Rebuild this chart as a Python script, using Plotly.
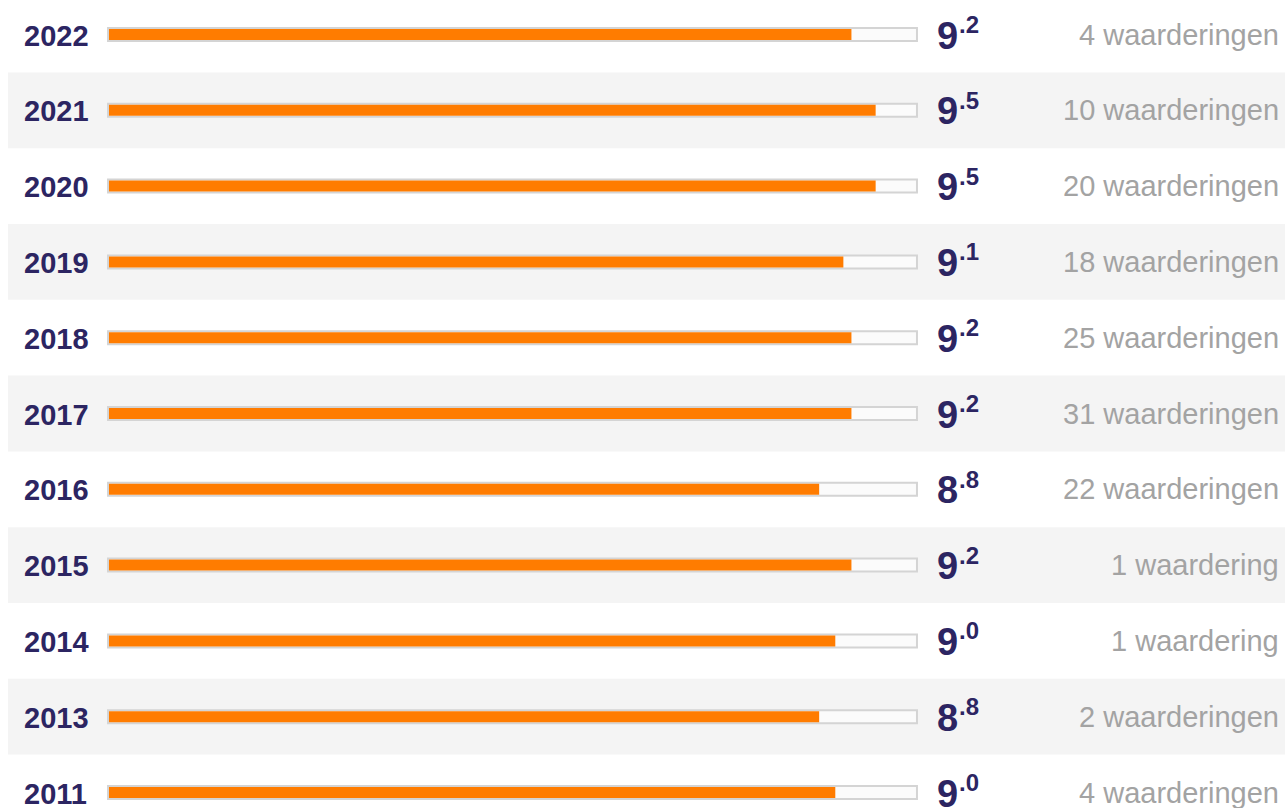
import plotly.graph_objects as go

years = ["2022", "2021", "2020", "2019", "2018", "2017", "2016", "2015", "2014", "2013", "2011"]
scores = [9.2, 9.5, 9.5, 9.1, 9.2, 9.2, 8.8, 9.2, 9.0, 8.8, 9.0]
counts = [4, 10, 20, 18, 25, 31, 22, 1, 1, 2, 4]
max_score = 10

W, H = 1285, 808
PX0, PX10 = 109, 916          # pixel of score 0 and score 10
ROW0, ROWH = 34.5, 75.8       # pixel centre of first row, row pitch

ppu = (PX10 - PX0) / max_score
xr = [-PX0 / ppu, (W - PX0) / ppu]
yr = [(H - ROW0) / ROWH, -ROW0 / ROWH]

rows = list(range(len(years)))
ORANGE = "#ff7c00"
NAVY = "#2c2562"
GREY = "#a3a3a3"
FONT = "Liberation Sans, Arial, Helvetica, sans-serif"

fig = go.Figure()

# track
fig.add_trace(go.Bar(
    y=rows, x=[max_score + 0.024] * len(rows), base=[-0.012] * len(rows),
    orientation="h", width=13 / ROWH,
    marker=dict(color="#fbfbfb", line=dict(color="#d4d4d4", width=2)),
    hoverinfo="skip", showlegend=False,
))
# score fill
fig.add_trace(go.Bar(
    y=rows, x=scores, base=[0] * len(rows),
    orientation="h", width=11 / ROWH,
    marker=dict(color=ORANGE, line=dict(width=0)),
    hoverinfo="skip", showlegend=False,
))

shapes = []
annotations = []
for i, (yr_, s, c) in enumerate(zip(years, scores, counts)):
    if i % 2 == 1:
        shapes.append(dict(type="rect", xref="paper", yref="y",
                           x0=8 / W, x1=1, y0=i - 0.5, y1=i + 0.5,
                           fillcolor="#f4f4f4", line=dict(width=0), layer="below"))
    annotations.append(dict(x=22 / W, xref="paper", y=i, yref="y",
                            text=f"<b>{yr_}</b>", showarrow=False,
                            xanchor="left", yanchor="middle", yshift=-1,
                            font=dict(family=FONT, size=29, color=NAVY)))
    whole, frac = f"{s:.1f}".split(".")
    annotations.append(dict(x=935 / W, xref="paper", y=i, yref="y",
                            text=f"<b>{whole}</b>", showarrow=False,
                            xanchor="left", yanchor="middle", yshift=-1,
                            font=dict(family=FONT, size=38, color=NAVY)))
    annotations.append(dict(x=957 / W, xref="paper", y=i, yref="y",
                            text=f"<b>.{frac}</b>", showarrow=False,
                            xanchor="left", yanchor="middle", yshift=10,
                            font=dict(family=FONT, size=24, color=NAVY)))
    label = f"{c} waardering" + ("" if c == 1 else "en")
    annotations.append(dict(x=1281 / W, xref="paper", y=i, yref="y",
                            text=label, showarrow=False,
                            xanchor="right", yanchor="middle", yshift=0,
                            font=dict(family=FONT, size=29, color=GREY)))

fig.update_layout(
    width=W, height=H,
    margin=dict(l=0, r=0, t=0, b=0),
    paper_bgcolor="white", plot_bgcolor="white",
    barmode="overlay",
    xaxis=dict(range=xr, visible=False, fixedrange=True),
    yaxis=dict(range=yr, visible=False, fixedrange=True),
    shapes=shapes, annotations=annotations,
    showlegend=False,
)

fig.write_html("out.html", config={"displayModeBar": False})
